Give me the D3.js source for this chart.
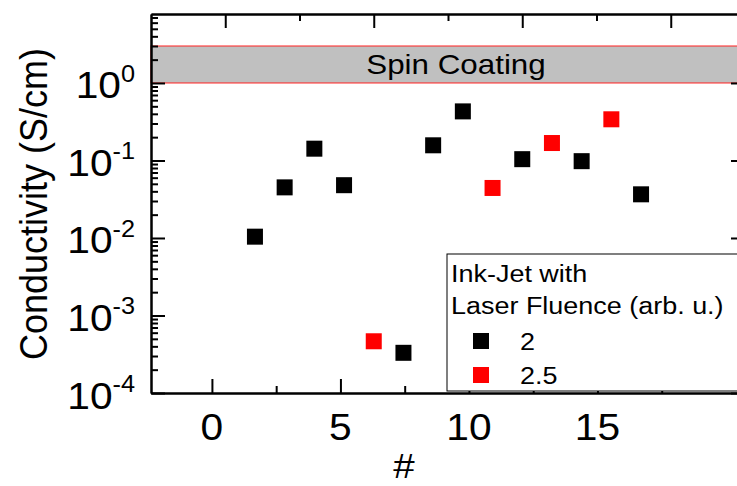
<!DOCTYPE html>
<html>
<head>
<meta charset="utf-8">
<script src="https://cdn.jsdelivr.net/npm/d3@7"></script>
<style>
body { margin: 0; background: #fff; }
text { font-family: "Liberation Sans", Arial, sans-serif; fill: #000; }
</style>
</head>
<body>
<div id="chart_container"></div>
<script>
// Data
var x_black = [1, 2, 3, 4, 6, 7, 8, 10, 12, 14];
var y_black = [0.0104, 0.045, 0.142, 0.048, 0.00033, 0.157, 0.43, 0.104, 0.098, 0.0366];
var x_red = [5, 9, 11, 13];
var y_red = [0.000465, 0.0442, 0.168, 0.34];
var series_labels = ["2", "2.5"];
var series_colors = ["#000000", "#ff0000"];
var legend_title = ["Ink-Jet with", "Laser Fluence (arb. u.)"];
var x_ticks = [0, 5, 10, 15];
var x_minor = [2.5, 7.5, 12.5, 17.5];
var y_exponents = [-4, -3, -2, -1, 0];
var spin_range = [1, 3];
var spin_label = "Spin Coating";

// Chart dimensions
var width = 737;
var height = 486;
var plot = {left: 151, right: 745, top: 14, bottom: 393};
var stretch = 1.1;

// Scales
var x_scale = d3.scaleLinear()
    .domain([-2.5, 17.5])
    .range([plot.left, plot.right]);

// the labelled bottom axis does not line up with the data axis in the original
var x_bottom = d3.scaleLinear()
    .domain([-2.37, 20.74])
    .range([plot.left, plot.right]);

var y_scale = d3.scaleLog()
    .domain([1e-4, Math.pow(10, 0.89)])
    .range([plot.bottom, plot.top]);

var y_major = y_exponents.map(function(e) { return Math.pow(10, e); });
var y_minor = y_scale.ticks().filter(function(v) {
    return Math.abs(Math.log10(v) - Math.round(Math.log10(v))) > 1e-6;
});

var svg = d3.select("#chart_container")
    .append("svg")
    .attr("width", width)
    .attr("height", height)
    .style("background-color", "white");

// Spin coating band
svg.append("rect")
    .attr("x", plot.left)
    .attr("y", y_scale(spin_range[1]))
    .attr("width", plot.right - plot.left + 20)
    .attr("height", y_scale(spin_range[0]) - y_scale(spin_range[1]))
    .attr("fill", "#c0c0c0")
    .attr("stroke", "#ff2020")
    .attr("stroke-width", 1);

svg.append("text")
    .attr("transform", "translate(456," + (y_scale(Math.sqrt(spin_range[0] * spin_range[1])) + 10) + ") scale(" + stretch + ",1)")
    .attr("text-anchor", "middle")
    .style("font-size", "28.5px")
    .text(spin_label);

// Axes
function styleAxis(g) {
    g.selectAll("path").attr("stroke", "#000").attr("stroke-width", 2);
    g.selectAll("line").attr("stroke", "#000").attr("stroke-width", 2);
    g.selectAll("text").remove();
}

svg.append("g")
    .attr("transform", "translate(" + plot.left + ",0)")
    .call(d3.axisLeft(y_scale).tickValues(y_major).tickSize(-14).tickSizeOuter(0))
    .call(styleAxis);
svg.append("g")
    .attr("transform", "translate(" + plot.left + ",0)")
    .call(d3.axisLeft(y_scale).tickValues(y_minor).tickSize(-7).tickSizeOuter(0))
    .call(styleAxis);

svg.append("g")
    .attr("transform", "translate(" + plot.right + ",0)")
    .call(d3.axisRight(y_scale).tickValues(y_major).tickSize(-14).tickSizeOuter(0))
    .call(styleAxis);
svg.append("g")
    .attr("transform", "translate(" + plot.right + ",0)")
    .call(d3.axisRight(y_scale).tickValues(y_minor).tickSize(-7).tickSizeOuter(0))
    .call(styleAxis);

svg.append("g")
    .attr("transform", "translate(0," + plot.top + ")")
    .call(d3.axisTop(x_scale).tickValues(x_ticks).tickSize(-14).tickSizeOuter(0))
    .call(styleAxis);
svg.append("g")
    .attr("transform", "translate(0," + plot.top + ")")
    .call(d3.axisTop(x_scale).tickValues(x_minor.slice(0, 3)).tickSize(-7).tickSizeOuter(0))
    .call(styleAxis);

svg.append("g")
    .attr("transform", "translate(0," + plot.bottom + ")")
    .call(d3.axisBottom(x_bottom).tickValues(x_ticks).tickSize(-14).tickSizeOuter(0))
    .call(styleAxis);
svg.append("g")
    .attr("transform", "translate(0," + plot.bottom + ")")
    .call(d3.axisBottom(x_bottom).tickValues(x_minor).tickSize(-7).tickSizeOuter(0))
    .call(styleAxis);

// Tick labels
svg.append("g")
    .selectAll("text")
    .data(x_ticks)
    .enter()
    .append("text")
    .attr("transform", function(d) {
        return "translate(" + x_bottom(d) + "," + (plot.bottom + 47) + ") scale(" + stretch + ",1)";
    })
    .attr("text-anchor", "middle")
    .style("font-size", "37px")
    .text(function(d) { return d; });

var y_labels = svg.append("g")
    .selectAll("text")
    .data(y_exponents)
    .enter()
    .append("text")
    .attr("transform", function(d) {
        return "translate(135," + (y_scale(Math.pow(10, d)) + 15.5) + ") scale(" + stretch + ",1)";
    })
    .attr("text-anchor", "end")
    .style("font-size", "37px");
y_labels.append("tspan").text("10");
y_labels.append("tspan")
    .attr("dy", -16.5)
    .style("font-size", "23px")
    .text(function(d) { return d; });

// Axis titles
svg.append("text")
    .attr("transform", "translate(404,478) scale(" + stretch + ",1)")
    .attr("text-anchor", "middle")
    .style("font-size", "35px")
    .text("#");

svg.append("text")
    .attr("transform", "translate(47,204) scale(" + stretch + ",1) rotate(-90)")
    .attr("text-anchor", "middle")
    .style("font-size", "36px")
    .text("Conductivity (S/cm)");

// Data points
var size = 16;
svg.append("g")
    .selectAll("rect")
    .data(x_black)
    .enter()
    .append("rect")
    .attr("x", function(d) { return x_scale(d) - size / 2; })
    .attr("y", function(d, i) { return y_scale(y_black[i]) - size / 2; })
    .attr("width", size)
    .attr("height", size)
    .attr("fill", series_colors[0]);

svg.append("g")
    .selectAll("rect")
    .data(x_red)
    .enter()
    .append("rect")
    .attr("x", function(d) { return x_scale(d) - size / 2; })
    .attr("y", function(d, i) { return y_scale(y_red[i]) - size / 2; })
    .attr("width", size)
    .attr("height", size)
    .attr("fill", series_colors[1]);

// Legend
var legend = svg.append("g");
legend.append("rect")
    .attr("x", 447)
    .attr("y", 254)
    .attr("width", 320)
    .attr("height", 137)
    .attr("fill", "white")
    .attr("stroke", "#000")
    .attr("stroke-width", 1);

legend.selectAll(".title")
    .data(legend_title)
    .enter()
    .append("text")
    .attr("class", "title")
    .attr("transform", function(d, i) {
        return "translate(451," + (282 + i * 31.5) + ") scale(" + stretch + ",1)";
    })
    .style("font-size", "24.5px")
    .text(function(d) { return d; });

var entries = legend.selectAll(".entry")
    .data(series_labels)
    .enter()
    .append("g")
    .attr("class", "entry")
    .attr("transform", function(d, i) { return "translate(0," + (i * 34) + ")"; });
entries.append("rect")
    .attr("x", 473)
    .attr("y", 333)
    .attr("width", size)
    .attr("height", size)
    .attr("fill", function(d, i) { return series_colors[i]; });
entries.append("text")
    .attr("transform", "translate(520,350) scale(" + stretch + ",1)")
    .style("font-size", "24.5px")
    .text(function(d) { return d; });
</script>
</body>
</html>
